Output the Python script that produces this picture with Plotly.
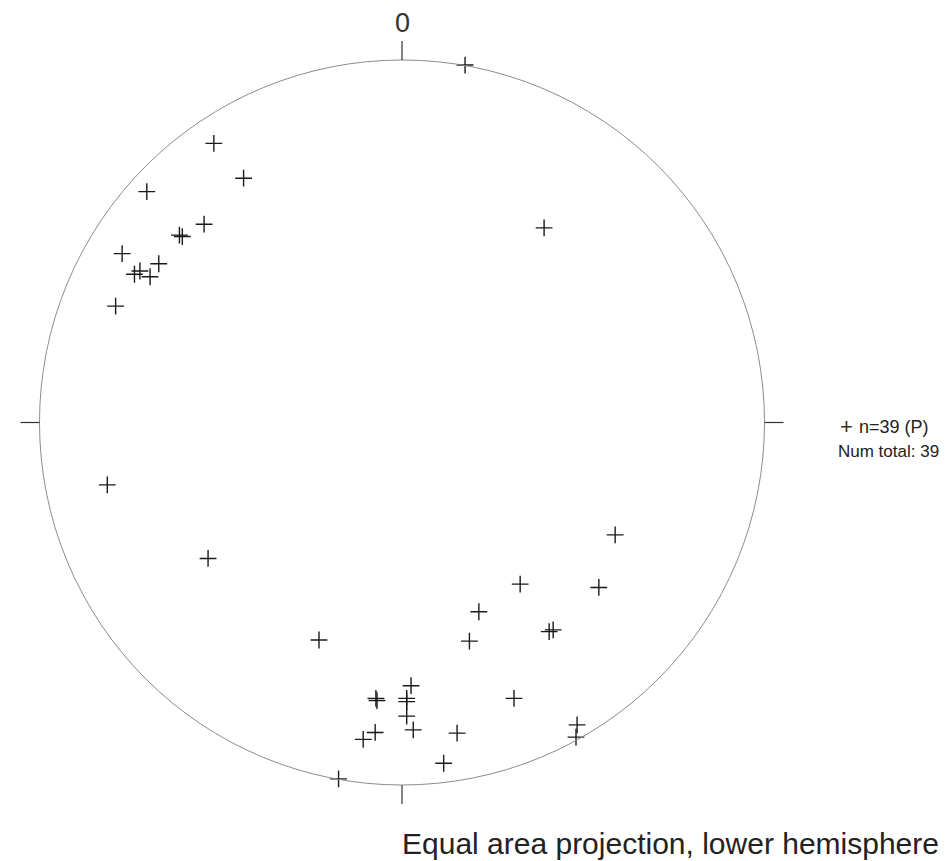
import plotly.graph_objects as go

# Projected point positions (unit circle = primitive circle), east (x) / north (y)
east = [-0.519, -0.437, -0.704, -0.546, -0.614, -0.606, -0.772, -0.671, -0.723, -0.738,
        -0.695, -0.790, 0.174, 0.392, -0.813, -0.535, -0.229, 0.025, -0.072, -0.069,
        0.013, 0.013, 0.013, 0.031, -0.074, -0.107, 0.152, 0.115, -0.175, 0.588,
        0.326, 0.543, 0.212, 0.186, 0.406, 0.417, 0.309, 0.483, 0.480]
north = [0.770, 0.674, 0.637, 0.547, 0.517, 0.513, 0.466, 0.438, 0.418, 0.409,
         0.402, 0.321, 0.986, 0.537, -0.172, -0.375, -0.600, -0.726, -0.761, -0.767,
         -0.761, -0.770, -0.810, -0.848, -0.855, -0.874, -0.857, -0.940, -0.983, -0.310,
         -0.446, -0.455, -0.522, -0.603, -0.577, -0.572, -0.761, -0.834, -0.868]

north_label = "0"
legend_symbol = "+"
legend_label = "n=39 (P)"
total_label = "Num total: 39"
title_text = "Equal area projection, lower hemisphere"

# page has an 8px body margin; figure covers the rest of the window
OFF = 8
W, H = 952 - OFF, 861 - OFF
cx, cy, R = 402 - OFF, 422.5 - OFF, 362.5
xr = [-cx / R, (W - cx) / R]
yr = [(cy - H) / R, cy / R]


def px(x):
    return (x - OFF - cx) / R


def py(y):
    return (cy - (y - OFF)) / R


fig = go.Figure()
fig.add_trace(go.Scatter(
    x=east, y=north, mode="markers",
    marker=dict(symbol="cross-thin", size=12, line=dict(width=1.4, color="#1a1a1a")),
    showlegend=False, hoverinfo="skip"))

shapes = [dict(type="circle", xref="x", yref="y", x0=-1, y0=-1, x1=1, y1=1,
               line=dict(color="#8c8c8c", width=1))]
tk = 19 / R
tick_col = "#333333"
shapes += [
    dict(type="line", x0=0, x1=0, y0=1, y1=1 + tk, line=dict(color=tick_col, width=1.2)),
    dict(type="line", x0=0, x1=0, y0=-1, y1=-1 - tk, line=dict(color=tick_col, width=1.2)),
    dict(type="line", x0=-1, x1=-1 - tk, y0=0, y1=0, line=dict(color=tick_col, width=1.2)),
    dict(type="line", x0=1, x1=1 + tk, y0=0, y1=0, line=dict(color=tick_col, width=1.2)),
]

font = "Liberation Sans, Arial, sans-serif"
annotations = [
    dict(x=0, y=py(23), text=north_label, showarrow=False,
         font=dict(family=font, size=27, color="#333333"), xanchor="center", yanchor="middle"),
    dict(x=px(838), y=py(426), text=legend_symbol, showarrow=False,
         font=dict(family=font, size=22, color="#333333"), xanchor="left", yanchor="middle"),
    dict(x=px(857), y=py(427), text=legend_label, showarrow=False,
         font=dict(family=font, size=18, color="#222222"), xanchor="left", yanchor="middle"),
    dict(x=px(836), y=py(451), text=total_label, showarrow=False,
         font=dict(family=font, size=17, color="#222222"), xanchor="left", yanchor="middle"),
    dict(x=px(400), y=py(843), text=title_text, showarrow=False,
         font=dict(family=font, size=30, color="#222222"), xanchor="left", yanchor="middle"),
]

fig.update_layout(
    width=W, height=H, autosize=False,
    margin=dict(l=0, r=0, t=0, b=0),
    paper_bgcolor="white", plot_bgcolor="white",
    xaxis=dict(range=xr, visible=False, fixedrange=True),
    yaxis=dict(range=yr, visible=False, fixedrange=True),
    shapes=shapes, annotations=annotations,
)
fig.write_html("out.html")
